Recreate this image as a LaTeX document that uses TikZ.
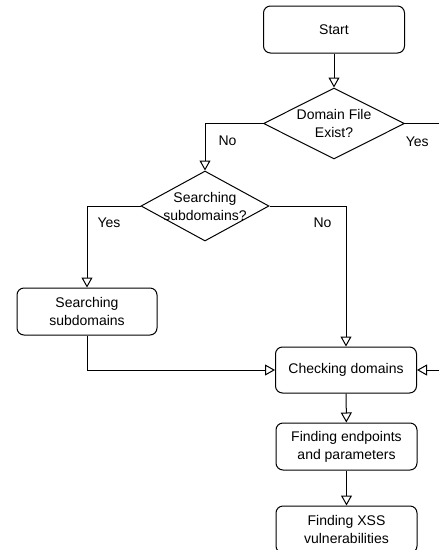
\documentclass[tikz,border=0pt]{standalone}
\usepackage{fontspec}
\setmainfont{Liberation Sans}
\usetikzlibrary{shapes, arrows.meta}

\begin{document}
\begin{tikzpicture}[x=1pt, y=-1pt,
>={Triangle[open, length=10pt, width=11pt]},
every node/.style={font=\fontsize{14}{18}\selectfont},
box/.style={rectangle, draw, line width=1pt, rounded corners=7pt, minimum width=141pt, minimum height=47pt, inner sep=0pt, align=center},
decision/.style={diamond, draw, line width=1pt, inner sep=0pt},
answer/.style={inner sep=0pt},
point/.style={coordinate},
]
\useasboundingbox (0,0) rectangle (439,550);
\clip (0,0) rectangle (439,550);
%boxes and decisions
\node (start) [box] at (334,29.5) {Start};
\node (dom) [decision, minimum width=141pt, minimum height=71pt,
  label={[align=center]center:Domain File\\Exist?}] at (334,123.5) {};
\node (sub) [decision, minimum width=128pt, minimum height=70pt,
  label={[align=center]center:Searching\\subdomains?}] at (205,206) {};
\node (search) [box, minimum width=140pt] at (87,311.5) {Searching\\subdomains};
\node (check) [box, minimum height=46pt] at (346,370) {Checking domains};
\node (endp) [box] at (346.5,446.5) {Finding endpoints\\and parameters};
\node (xss) [box] at (346.5,529.5) {Finding XSS\\vulnerabilities};
\node (edge) [point] at (450,370) {};
%connectors
\draw [line width=1pt,->] (start)--(dom);
\draw [line width=1pt,->] (dom.west)-|node[answer, pos=0.68, right=13pt]{No}(sub.north);
\draw [line width=1pt,->] (dom.east)-|node[answer, pos=0.136, below=12.5pt]{Yes}(edge)--(check.east);
\draw [line width=1pt,->] (sub.west)-|node[answer, pos=0.6, right=10pt]{Yes}(search.north);
\draw [line width=1pt,->] (sub.east)-|node[answer, pos=0.56, left=14pt]{No}(check.north);
\draw [line width=1pt,->] (search.south)|-(check.west);
\draw [line width=1pt,->] (check)--(endp);
\draw [line width=1pt,->] (endp)--(xss);
\end{tikzpicture}
\end{document}
